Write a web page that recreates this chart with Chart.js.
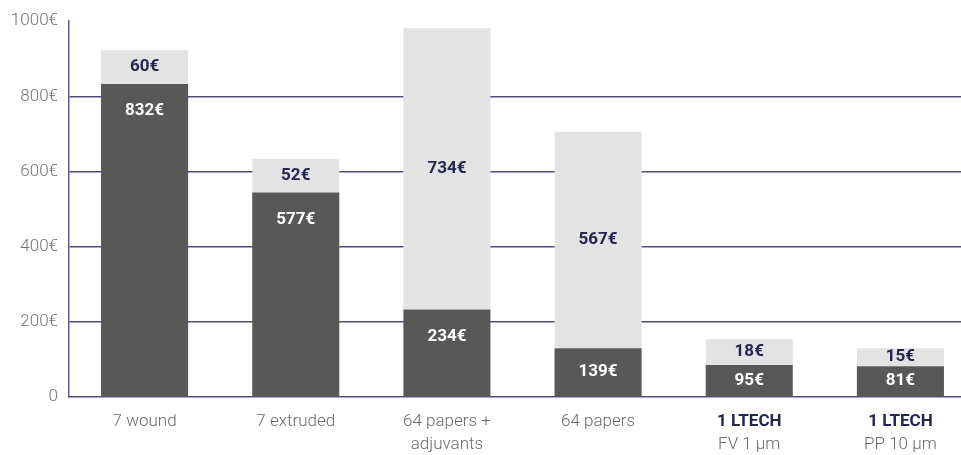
<!DOCTYPE html>
<html>
<head>
<meta charset="utf-8">
<script src="https://cdn.jsdelivr.net/npm/chart.js@4.4.1/dist/chart.umd.min.js"></script>
<style>
  html, body { margin: 0; padding: 0; background: #fff; overflow: hidden; }
  #wrap { width: 982px; height: 455px; position: relative; }
</style>
</head>
<body>
<div id="wrap"><canvas id="chart"></canvas></div>
<script>
// categories (one array of lines per bar)
var categories = [
  ['7 wound'],
  ['7 extruded'],
  ['64 papers +', 'adjuvants'],
  ['64 papers'],
  ['1 LTECH', 'FV 1 µm'],
  ['1 LTECH', 'PP 10 µm']
];
var highlighted = [false, false, false, false, true, true];

// bar heights
var baseValues  = [833, 544, 233, 130, 85, 82];
var extraValues = [90, 90, 748, 576, 69, 48];

// printed value labels
var baseLabels  = ['832€', '577€', '234€', '139€', '95€', '81€'];
var extraLabels = ['60€', '52€', '734€', '567€', '18€', '15€'];

var yTicks = [0, 200, 400, 600, 800, 1000];

var NAVY = '#23264f';
var FONT = 'Roboto, "Noto Sans", sans-serif';

// value labels inside the segments
var segmentLabels = {
  id: 'segmentLabels',
  afterDatasetsDraw: function(chart) {
    var ctx = chart.ctx;
    ctx.save();
    ctx.textAlign = 'center';
    ctx.textBaseline = 'middle';
    ctx.font = 'bold 17px ' + FONT;
    chart.getDatasetMeta(0).data.forEach(function(el, i) {
      var top = el.y, base = el.base;
      var y = Math.min(top + 27, (top + base) / 2);
      ctx.fillStyle = '#ffffff';
      ctx.fillText(baseLabels[i], el.x, y);
    });
    chart.getDatasetMeta(1).data.forEach(function(el, i) {
      ctx.fillStyle = NAVY;
      ctx.fillText(extraLabels[i], el.x, (el.y + el.base) / 2);
    });
    ctx.restore();
  }
};

// category labels under the axis, with bold first line for highlighted bars
var categoryLabels = {
  id: 'categoryLabels',
  afterDraw: function(chart) {
    var ctx = chart.ctx;
    var xs = chart.scales.x;
    var y0 = chart.chartArea.bottom + 25;
    ctx.save();
    ctx.textAlign = 'center';
    ctx.textBaseline = 'middle';
    categories.forEach(function(lines, i) {
      var x = xs.getPixelForValue(i);
      lines.forEach(function(line, j) {
        if (highlighted[i] && j === 0) {
          ctx.font = 'bold 17px ' + FONT;
          ctx.fillStyle = NAVY;
        } else {
          ctx.font = '300 17px ' + FONT;
          ctx.fillStyle = '#6a6a6a';
        }
        ctx.fillText(line, x, y0 + j * 23);
      });
    });
    ctx.restore();
  }
};

new Chart(document.getElementById('chart'), {
  type: 'bar',
  data: {
    labels: categories.map(function(c) { return c.join(' '); }),
    datasets: [
      { data: baseValues, backgroundColor: '#585856' },
      { data: extraValues, backgroundColor: '#e3e3e3' }
    ]
  },
  options: {
    responsive: true,
    maintainAspectRatio: false,
    animation: false,
    events: [],
    layout: { padding: { top: 20, right: 6, left: 0, bottom: 0 } },
    datasets: { bar: { barPercentage: 0.576, categoryPercentage: 1 } },
    plugins: { legend: { display: false }, tooltip: { enabled: false } },
    scales: {
      x: {
        stacked: true,
        grid: { display: false },
        border: { display: true, color: '#4d4f78', width: 1.5 },
        ticks: { display: false },
        afterFit: function(scale) { scale.height = 58; }
      },
      y: {
        stacked: true,
        min: 0,
        max: 1000,
        afterBuildTicks: function(scale) {
          scale.ticks = yTicks.map(function(v) { return { value: v }; });
        },
        grid: {
          color: function(c) {
            var v = c.tick ? c.tick.value : 0;
            return (v === 0 || v === 1000) ? 'rgba(0,0,0,0)' : '#4d4f78';
          },
          lineWidth: 1.5,
          drawTicks: false
        },
        border: { display: true, color: '#5d5f82', width: 1.5 },
        ticks: {
          padding: 11,
          color: '#727272',
          font: { family: FONT, size: 17, weight: '300' },
          callback: function(v) { return v === 0 ? '0' : v + '€'; }
        },
        afterFit: function(scale) { scale.width = 69; }
      }
    }
  },
  plugins: [segmentLabels, categoryLabels]
});
</script>
</body>
</html>
